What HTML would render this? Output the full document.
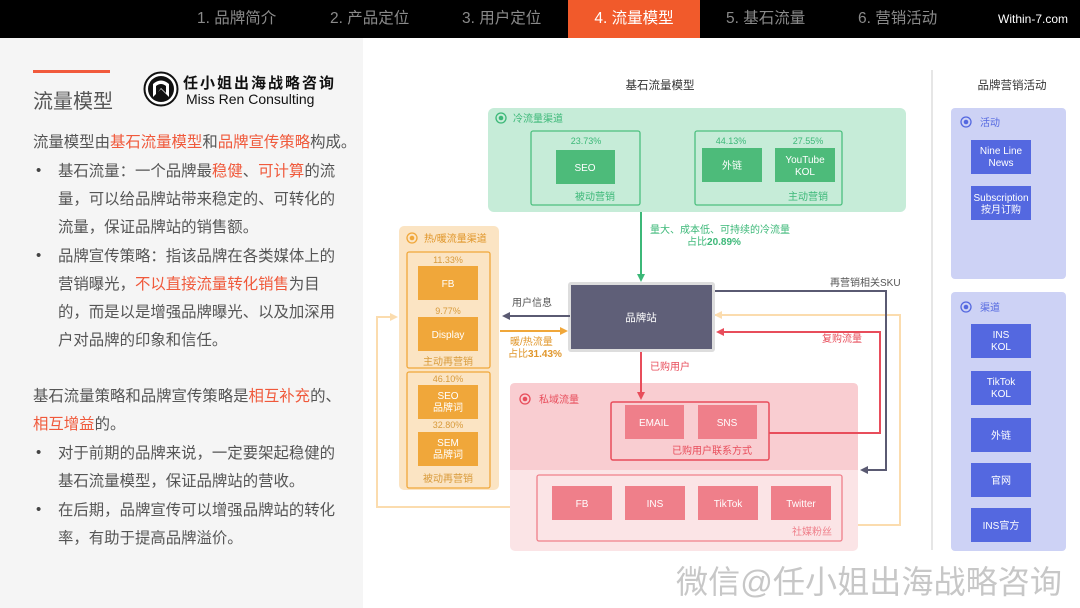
<!DOCTYPE html>
<html><head><meta charset="utf-8"><style>
*{margin:0;padding:0}
body{width:1080px;height:608px;position:relative;background:#fff;overflow:hidden;font-family:"Liberation Sans","Noto Sans CJK SC",sans-serif}
.top{position:absolute;left:0;top:0;width:1080px;height:38px;background:#000}
.tab{position:absolute;top:0;height:38px;line-height:38px;color:#8a8a8a;font-size:15.5px;white-space:nowrap}
.left{position:absolute;left:0;top:38px;width:363px;height:570px;background:#f5f5f5}
.t{position:absolute;font-size:15.4px;color:#555;white-space:nowrap;line-height:18px}
.r{color:#f0593b}
.b{position:absolute;font-size:15px;color:#444}
</style></head><body>
<div class="top"></div>
<div class="tab" style="left:197px">1. 品牌简介</div>
<div class="tab" style="left:330px">2. 产品定位</div>
<div class="tab" style="left:462px">3. 用户定位</div>
<div class="tab" style="left:568px;width:132px;background:#f15a2b;color:#fff;text-align:center">4. 流量模型</div>
<div class="tab" style="left:726px">5. 基石流量</div>
<div class="tab" style="left:858px">6. 营销活动</div>
<div class="tab" style="left:998px;color:#fff;font-size:12px">Within-7.com</div>
<div class="left"></div>
<div style="position:absolute;left:33px;top:70px;width:77px;height:3px;background:#f15a3c"></div>
<div style="position:absolute;left:33px;top:85px;font-size:20px;color:#555">流量模型</div>
<svg style="position:absolute;left:143px;top:71px" width="36" height="36" viewBox="0 0 36 36"><circle cx="18" cy="18" r="16.5" fill="#fff" stroke="#111" stroke-width="2"/><circle cx="18" cy="18" r="13" fill="#111"/><path d="M10 26 L10 13 Q18 6 26 13 L26 26 L18 18 Z" fill="#fff"/><path d="M13 24 L13 15 Q18 11 23 15 L23 22 L18 17 Z" fill="#111"/></svg>
<div style="position:absolute;left:183px;top:72px;font-size:15px;color:#111;letter-spacing:2px;font-weight:bold">任小姐出海战略咨询</div>
<div style="position:absolute;left:186px;top:91px;font-size:14px;color:#111">Miss Ren Consulting</div>

<div class="t" style="left:33px;top:134px">流量模型由<span class="r">基石流量模型</span>和<span class="r">品牌宣传策略</span>构成。</div>
<div class="b" style="left:36px;top:162px">•</div>
<div class="t" style="left:58px;top:163px">基石流量：一个品牌最<span class="r">稳健</span>、<span class="r">可计算</span>的流</div>
<div class="t" style="left:58px;top:191px">量，可以给品牌站带来稳定的、可转化的</div>
<div class="t" style="left:58px;top:219px">流量，保证品牌站的销售额。</div>
<div class="b" style="left:36px;top:247px">•</div>
<div class="t" style="left:58px;top:248px">品牌宣传策略：指该品牌在各类媒体上的</div>
<div class="t" style="left:58px;top:276px">营销曝光，<span class="r">不以直接流量转化销售</span>为目</div>
<div class="t" style="left:58px;top:304px">的，而是以是增强品牌曝光、以及加深用</div>
<div class="t" style="left:58px;top:332px">户对品牌的印象和信任。</div>
<div class="t" style="left:33px;top:388px">基石流量策略和品牌宣传策略是<span class="r">相互补充</span>的、</div>
<div class="t" style="left:33px;top:416px"><span class="r">相互增益</span>的。</div>
<div class="b" style="left:36px;top:444px">•</div>
<div class="t" style="left:58px;top:445px">对于前期的品牌来说，一定要架起稳健的</div>
<div class="t" style="left:58px;top:473px">基石流量模型，保证品牌站的营收。</div>
<div class="b" style="left:36px;top:501px">•</div>
<div class="t" style="left:58px;top:502px">在后期，品牌宣传可以增强品牌站的转化</div>
<div class="t" style="left:58px;top:530px">率，有助于提高品牌溢价。</div>

<svg style="position:absolute;left:0;top:0" width="1080" height="608" viewBox="0 0 1080 608" font-family="Liberation Sans, Noto Sans CJK SC, sans-serif">
<defs>
<marker id="ag" markerWidth="8" markerHeight="8" refX="6" refY="4" orient="auto" markerUnits="userSpaceOnUse"><path d="M0 0 L8 4 L0 8 Z" fill="#3cb878"/></marker>
<marker id="ad" markerWidth="8" markerHeight="8" refX="6" refY="4" orient="auto" markerUnits="userSpaceOnUse"><path d="M0 0 L8 4 L0 8 Z" fill="#5a5a72"/></marker>
<marker id="ao" markerWidth="8" markerHeight="8" refX="6" refY="4" orient="auto" markerUnits="userSpaceOnUse"><path d="M0 0 L8 4 L0 8 Z" fill="#f0a73a"/></marker>
<marker id="al" markerWidth="8" markerHeight="8" refX="6" refY="4" orient="auto" markerUnits="userSpaceOnUse"><path d="M0 0 L8 4 L0 8 Z" fill="#fbdcae"/></marker>
<marker id="ar" markerWidth="8" markerHeight="8" refX="6" refY="4" orient="auto" markerUnits="userSpaceOnUse"><path d="M0 0 L8 4 L0 8 Z" fill="#e84d5b"/></marker>
</defs>
<text x="660" y="89" font-size="11.5" fill="#333" text-anchor="middle">基石流量模型</text>
<text x="1012" y="89" font-size="11.5" fill="#333" text-anchor="middle">品牌营销活动</text>
<line x1="932" y1="70" x2="932" y2="550" stroke="#ddd" stroke-width="1.5"/>

<rect x="488" y="108" width="418" height="104" rx="6" fill="#c6ecd8"/>
<circle cx="501" cy="118" r="5" fill="none" stroke="#3cb878" stroke-width="1.3"/><circle cx="501" cy="118" r="2.3" fill="#3cb878"/>
<text x="513" y="122" font-size="10" fill="#3cb878">冷流量渠道</text>
<rect x="531" y="131" width="109" height="74" rx="2" fill="none" stroke="#4cbf7f" stroke-width="1.3"/>
<text x="586" y="144" font-size="9" fill="#3cb878" text-anchor="middle">23.73%</text>
<rect x="556" y="150" width="59" height="34" fill="#4dbb7a"/>
<text x="585" y="171" font-size="10" fill="#fff" text-anchor="middle">SEO</text>
<text x="595" y="200" font-size="10" fill="#3cb878" text-anchor="middle">被动营销</text>
<rect x="695" y="131" width="147" height="74" rx="2" fill="none" stroke="#4cbf7f" stroke-width="1.3"/>
<text x="731" y="144" font-size="9" fill="#3cb878" text-anchor="middle">44.13%</text>
<text x="808" y="144" font-size="9" fill="#3cb878" text-anchor="middle">27.55%</text>
<rect x="702" y="148" width="60" height="34" fill="#4dbb7a"/>
<text x="732" y="169" font-size="10" fill="#fff" text-anchor="middle">外链</text>
<rect x="775" y="148" width="60" height="34" fill="#4dbb7a"/>
<text x="805" y="163" font-size="10" fill="#fff" text-anchor="middle">YouTube</text>
<text x="805" y="175" font-size="10" fill="#fff" text-anchor="middle">KOL</text>
<text x="808" y="200" font-size="10" fill="#3cb878" text-anchor="middle">主动营销</text>
<line x1="641" y1="212" x2="641" y2="280" stroke="#3cb878" stroke-width="2" marker-end="url(#ag)"/>
<text x="650" y="233" font-size="10" fill="#3cb878">量大、成本低、可持续的冷流量</text>
<text x="714" y="245" font-size="10" fill="#3cb878" text-anchor="middle">占比<tspan font-weight="bold">20.89%</tspan></text>

<polyline points="713,315 900,315 900,525 842,525" fill="none" stroke="#fbdcae" stroke-width="2"/>
<line x1="900" y1="315" x2="716" y2="315" stroke="#fbdcae" stroke-width="2" marker-end="url(#al)"/>
<polyline points="537,507 377,507 377,317 396,317" fill="none" stroke="#fbdcae" stroke-width="2" marker-end="url(#al)"/>

<rect x="568" y="282" width="147" height="70" rx="3" fill="#ddd"/>
<rect x="571" y="285" width="141" height="64" fill="#5f5f78"/>
<text x="641" y="321" font-size="10.5" fill="#fff" text-anchor="middle">品牌站</text>

<rect x="399" y="226" width="100" height="264" rx="5" fill="#fbe4c3"/>
<circle cx="412" cy="238" r="5" fill="none" stroke="#f0a73a" stroke-width="1.3"/><circle cx="412" cy="238" r="2.3" fill="#f0a73a"/>
<text x="424" y="242" font-size="10" fill="#e0962a">热/暖流量渠道</text>
<rect x="407" y="252" width="83" height="116" rx="2" fill="none" stroke="#f0a73a" stroke-width="1.3"/>
<text x="448" y="263" font-size="9" fill="#d89a3a" text-anchor="middle">11.33%</text>
<rect x="418" y="266" width="60" height="34" fill="#f0a73a"/><text x="448" y="287" font-size="10" fill="#fff" text-anchor="middle">FB</text>
<text x="448" y="314" font-size="9" fill="#d89a3a" text-anchor="middle">9.77%</text>
<rect x="418" y="317" width="60" height="34" fill="#f0a73a"/><text x="448" y="338" font-size="10" fill="#fff" text-anchor="middle">Display</text>
<text x="448" y="365" font-size="10" fill="#d89a3a" text-anchor="middle">主动再营销</text>
<rect x="407" y="372" width="83" height="116" rx="2" fill="none" stroke="#f0a73a" stroke-width="1.3"/>
<text x="448" y="382" font-size="9" fill="#d89a3a" text-anchor="middle">46.10%</text>
<rect x="418" y="385" width="60" height="34" fill="#f0a73a"/><text x="448" y="399" font-size="10" fill="#fff" text-anchor="middle">SEO</text><text x="448" y="411" font-size="10" fill="#fff" text-anchor="middle">品牌词</text>
<text x="448" y="428" font-size="9" fill="#d89a3a" text-anchor="middle">32.80%</text>
<rect x="418" y="432" width="60" height="34" fill="#f0a73a"/><text x="448" y="446" font-size="10" fill="#fff" text-anchor="middle">SEM</text><text x="448" y="458" font-size="10" fill="#fff" text-anchor="middle">品牌词</text>
<text x="448" y="482" font-size="10" fill="#d89a3a" text-anchor="middle">被动再营销</text>

<line x1="570" y1="316" x2="504" y2="316" stroke="#5a5a72" stroke-width="2" marker-end="url(#ad)"/>
<text x="512" y="306" font-size="10" fill="#555">用户信息</text>
<line x1="500" y1="331" x2="566" y2="331" stroke="#f0a73a" stroke-width="2" marker-end="url(#ao)"/>
<text x="510" y="345" font-size="10" fill="#e0962a">暖/热流量</text>
<text x="508" y="357" font-size="10" fill="#e0962a">占比<tspan font-weight="bold">31.43%</tspan></text>

<rect x="510" y="383" width="348" height="168" rx="5" fill="#fbe4e6"/>
<path d="M515 383 H853 Q858 383 858 388 V470 H510 V388 Q510 383 515 383 Z" fill="#f9cdd1"/>
<circle cx="525" cy="399" r="5" fill="none" stroke="#e84d5b" stroke-width="1.3"/><circle cx="525" cy="399" r="2.3" fill="#e84d5b"/>
<text x="539" y="403" font-size="10" fill="#e84d5b">私域流量</text>
<rect x="611" y="402" width="158" height="58" rx="2" fill="none" stroke="#e84d5b" stroke-width="1.5"/>
<rect x="625" y="405" width="59" height="34" fill="#ef7f8a"/><text x="654" y="426" font-size="10" fill="#fff" text-anchor="middle">EMAIL</text>
<rect x="698" y="405" width="59" height="34" fill="#ef7f8a"/><text x="727" y="426" font-size="10" fill="#fff" text-anchor="middle">SNS</text>
<text x="712" y="454" font-size="10" fill="#e84d5b" text-anchor="middle">已购用户联系方式</text>
<rect x="537" y="475" width="305" height="66" rx="2" fill="none" stroke="#ef7f8a" stroke-width="1.3"/>
<rect x="552" y="486" width="60" height="34" fill="#ef7f8a"/><text x="582" y="507" font-size="10" fill="#fff" text-anchor="middle">FB</text>
<rect x="625" y="486" width="60" height="34" fill="#ef7f8a"/><text x="655" y="507" font-size="10" fill="#fff" text-anchor="middle">INS</text>
<rect x="698" y="486" width="60" height="34" fill="#ef7f8a"/><text x="728" y="507" font-size="10" fill="#fff" text-anchor="middle">TikTok</text>
<rect x="771" y="486" width="60" height="34" fill="#ef7f8a"/><text x="801" y="507" font-size="10" fill="#fff" text-anchor="middle">Twitter</text>
<text x="832" y="535" font-size="10" fill="#ef7f8a" text-anchor="end">社媒粉丝</text>

<line x1="641" y1="352" x2="641" y2="398" stroke="#e84d5b" stroke-width="2" marker-end="url(#ar)"/>
<text x="650" y="370" font-size="10" fill="#e84d5b">已购用户</text>
<polyline points="769,433 880,433 880,332 718,332" fill="none" stroke="#e84d5b" stroke-width="2" marker-end="url(#ar)"/>
<text x="822" y="342" font-size="10" fill="#e84d5b">复购流量</text>
<polyline points="715,291 886,291 886,470 862,470" fill="none" stroke="#5a5a72" stroke-width="2" marker-end="url(#ad)"/>
<text x="830" y="286" font-size="10" fill="#555">再营销相关SKU</text>

<rect x="951" y="108" width="115" height="171" rx="4" fill="#cdd2f5"/>
<circle cx="966" cy="122" r="5" fill="none" stroke="#5468e0" stroke-width="1.3"/><circle cx="966" cy="122" r="2.3" fill="#5468e0"/>
<text x="980" y="126" font-size="10" fill="#5468e0">活动</text>
<rect x="971" y="140" width="60" height="34" fill="#5468e0"/><text x="1001" y="154" font-size="10" fill="#fff" text-anchor="middle">Nine Line</text><text x="1001" y="166" font-size="10" fill="#fff" text-anchor="middle">News</text>
<rect x="971" y="186" width="60" height="34" fill="#5468e0"/><text x="1001" y="201" font-size="10" fill="#fff" text-anchor="middle">Subscription</text><text x="1001" y="213" font-size="10" fill="#fff" text-anchor="middle">按月订购</text>
<rect x="951" y="292" width="115" height="259" rx="4" fill="#cdd2f5"/>
<circle cx="966" cy="307" r="5" fill="none" stroke="#5468e0" stroke-width="1.3"/><circle cx="966" cy="307" r="2.3" fill="#5468e0"/>
<text x="980" y="311" font-size="10" fill="#5468e0">渠道</text>
<rect x="971" y="324" width="60" height="34" fill="#5468e0"/><text x="1001" y="338" font-size="10" fill="#fff" text-anchor="middle">INS</text><text x="1001" y="350" font-size="10" fill="#fff" text-anchor="middle">KOL</text>
<rect x="971" y="371" width="60" height="34" fill="#5468e0"/><text x="1001" y="385" font-size="10" fill="#fff" text-anchor="middle">TikTok</text><text x="1001" y="397" font-size="10" fill="#fff" text-anchor="middle">KOL</text>
<rect x="971" y="418" width="60" height="34" fill="#5468e0"/><text x="1001" y="439" font-size="10" fill="#fff" text-anchor="middle">外链</text>
<rect x="971" y="463" width="60" height="34" fill="#5468e0"/><text x="1001" y="484" font-size="10" fill="#fff" text-anchor="middle">官网</text>
<rect x="971" y="508" width="60" height="34" fill="#5468e0"/><text x="1001" y="529" font-size="10" fill="#fff" text-anchor="middle">INS官方</text>

<text x="676" y="593" font-size="32" fill="#bdbdbd" fill-opacity="0.85" textLength="386" lengthAdjust="spacingAndGlyphs">微信@任小姐出海战略咨询</text>
</svg>
</body></html>
